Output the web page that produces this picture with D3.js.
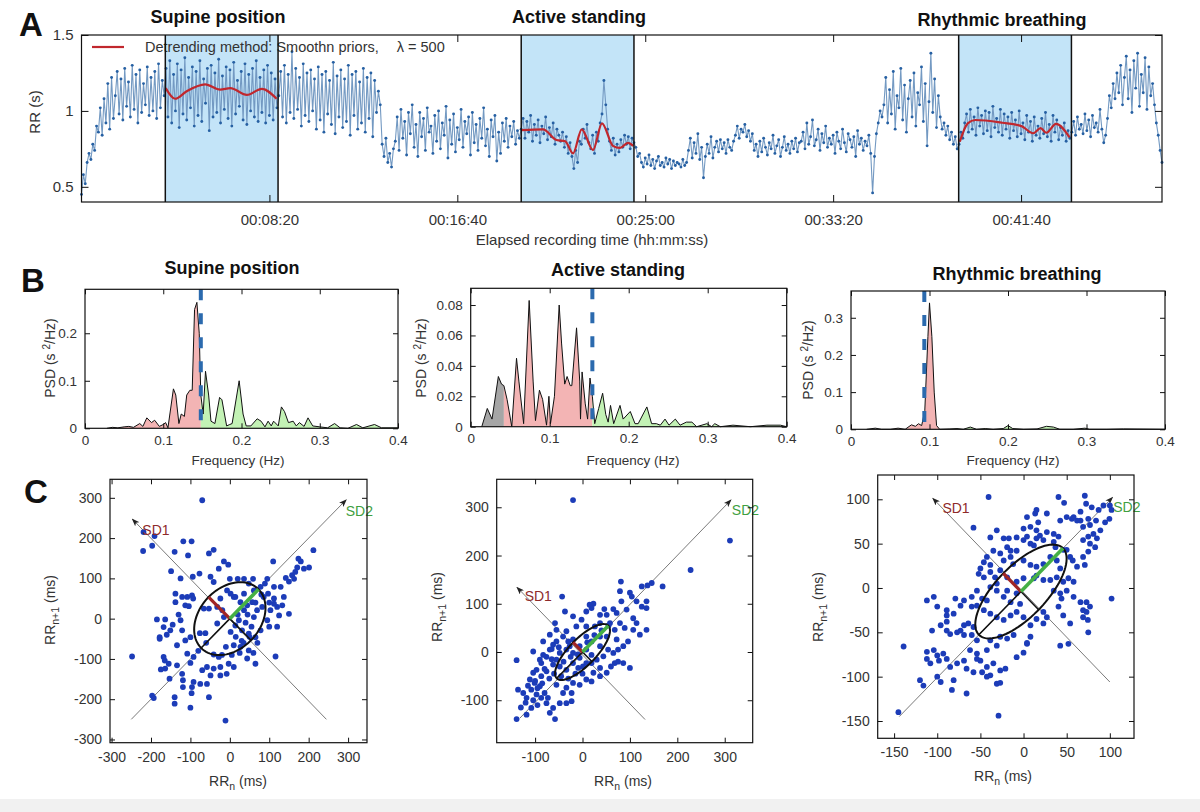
<!DOCTYPE html>
<html lang="en">
<head>
<meta charset="UTF-8">
<title>HRV analysis: RR series, PSD and Poincare plots</title>
<script src="https://cdn.jsdelivr.net/npm/d3@7"></script>
<style>
  body { margin: 0; background: #fff; }
  svg { font-family: "Liberation Sans", Arial, Helvetica, sans-serif; }
  .tick text { fill: #333; }
  .tick line { stroke: #111; }
  .ptitle { font-size: 18px; font-weight: bold; text-anchor: middle; fill: #111; }
  .letter { font-size: 33px; font-weight: bold; fill: #111; }
  .lab { font-size: 14px; fill: #333; text-anchor: middle; }
</style>
</head>
<body>
<svg id="fig" width="1200" height="812"></svg>
<script>
// ---------- panel A: RR series (values in 1/100 s, one every rrStep seconds) ----------
var rrStep = 5;
var rrValues = [
  45,58,52,66,72,68,78,74,90,86,102,84,108,92,118,88,122,95,110,126,98,121,94,128,103,119,96,130,101,124,92,127,99,118,104,129,97,122,100,126,95,131,102,120,110,
  128,96,133,92,124,100,131,89,127,98,135,94,122,102,129,90,126,97,133,93,
  121,105,128,87,130,96,125,99,134,92,123,101,129,95,127,90,132,98,120,103,
  126,94,131,91,124,100,128,96,133,93,122,99,127,92,130,97,125,94,121,102,
  110,126,96,130,92,124,99,139,95,128,101,122,90,131,97,125,93,127,100,121,
  88,129,94,124,86,126,98,120,91,132,85,123,96,127,89,121,93,130,84,124,
  97,126,88,119,92,128,86,122,95,125,83,120,99,113,104,
  78,70,82,66,72,63,75,
  80,96,74,101,82,93,71,99,85,104,76,91,70,99,83,95,74,102,86,90,
  72,97,80,100,75,92,84,103,69,94,78,98,73,89,81,101,76,93,85,96,
  71,99,79,91,74,95,82,102,77,88,70,94,83,97,67,86,72,92,80,95,
  76,90,83,93,78,87,82,
  88,95,82,93,86,97,80,91,84,94,79,90,85,96,81,89,83,92,78,88,84,
  80,86,76,83,72,79,70,62,74,66,80,78,88,82,91,79,75,84,72,86,80,92,
  98,120,104,88,80,74,82,71,78,73,81,76,84,78,83,75,82,79,
  76,70,72,66,63,69,65,71,64,68,62,67,70,64,66,63,69,65,68,62,67,64,66,
  65,63,68,64,66,74,82,69,79,72,85,68,76,56,70,78,72,83,69,76,80,73,81,
  75,79,72,81,76,74,80,84,90,82,88,86,91,83,87,80,85,
  74,78,70,80,73,82,76,71,79,75,84,72,77,81,70,76,83,74,78,72,80,75,82,73,79,
  80,86,75,92,78,83,94,77,81,88,74,85,79,90,76,82,
  78,84,72,86,80,75,88,79,73,85,81,76,83,70,87,78,82,74,80,77,84,72,
  46,70,85,92,100,96,
  104,122,92,114,98,126,88,110,102,128,94,117,86,108,120,96,125,90,112,104,
  129,93,118,77,106,138,99,121,89,110,96,88,92,84,90,81,86,78,83,75,
  78,86,82,92,
  98,86,101,88,96,84,102,90,97,85,100,87,99,83,103,89,95,86,101,84,
  98,88,96,82,99,87,94,83,100,85,92,81,97,86,93,80,96,84,90,82,
  95,85,99,83,91,80,97,86,94,81,89,84,92,80,87,82,
  86,93,84,96,88,91,85,98,87,94,83,97,89,92,86,101,88,79,84,
  95,110,102,118,108,125,
  112,130,104,122,136,108,127,99,133,115,138,103,124,112,135,101,129,110,118,
  104,92,84,74,66
];
var windows = [[223, 523], [1170, 1470], [2334, 2634]];
var windowNames = ["Supine position", "Active standing", "Rhythmic breathing"];
// smoothness-priors trend, [time s, RR s]
var trendSupine = [[224,1.15],[249,1.08],[280,1.13],[329,1.175],[369,1.14],[396,1.15],[440,1.105],[480,1.145],[519,1.08]];
var trendStanding = [[1171,0.874],[1228,0.879],[1264,0.808],[1287,0.80],[1308,0.72],[1331,0.879],[1361,0.742],[1385,0.918],[1414,0.77],[1433,0.756],[1454,0.79],[1468,0.77]];
var trendBreathing = [[2337,0.797],[2358,0.918],[2378,0.94],[2450,0.922],[2501,0.9],[2532,0.853],[2552,0.886],[2567,0.856],[2593,0.914],[2629,0.826]];
var timeTicks = [500, 1000, 1500, 2000, 2500];
var timeTickLabels = ["00:08:20", "00:16:40", "00:25:00", "00:33:20", "00:41:40"];
var rrTicks = [0.5, 1, 1.5];

// ---------- panel B: PSD, [frequency Hz, PSD s^2/Hz] ----------
var psdSupine = [[0.028,0],[0.035,0.002],[0.042,0.001],[0.05,0.003],[0.056,0.004],[0.062,0.002],[0.07,0.01],[0.074,0.004],[0.079,0.022],[0.085,0.012],[0.089,0.017],[0.095,0.004],[0.1,0.008],[0.103,0.012],[0.106,0.001],[0.113,0.083],[0.116,0.07],[0.12,0.01],[0.123,0.03],[0.127,0.025],[0.13,0.07],[0.134,0.08],[0.137,0.08],[0.14,0.25],[0.143,0.265],[0.146,0.2],[0.148,0.07],[0.151,0.03],[0.154,0.12],[0.158,0.07],[0.161,0.015],[0.166,0.01],[0.172,0.065],[0.175,0.06],[0.181,0.005],[0.185,0.008],[0.188,0.01],[0.197,0.1],[0.202,0.03],[0.206,0.005],[0.212,0.005],[0.22,0.02],[0.225,0.015],[0.23,0.003],[0.234,0.015],[0.238,0.005],[0.241,0.015],[0.247,0.005],[0.251,0.045],[0.255,0.035],[0.26,0.012],[0.266,0.015],[0.27,0.005],[0.274,0.012],[0.28,0.004],[0.285,0.022],[0.291,0.005],[0.3,0.003],[0.31,0.001],[0.319,0.01],[0.326,0.001],[0.336,0],[0.347,0.008],[0.355,0.001],[0.37,0.008],[0.379,0.001],[0.4,0.001]];
var psdStanding = [[0.014,0],[0.021,0.012],[0.027,0.005],[0.035,0.033],[0.039,0.028],[0.042,0.027],[0.046,0.018],[0.052,0],[0.058,0.045],[0.061,0.03],[0.067,0.002],[0.074,0.083],[0.079,0.03],[0.082,0.004],[0.087,0.024],[0.091,0.018],[0.096,0.001],[0.099,0.02],[0.101,0.002],[0.106,0.02],[0.112,0.08],[0.115,0.055],[0.119,0.028],[0.122,0.033],[0.126,0.027],[0.128,0.027],[0.134,0.065],[0.138,0.03],[0.139,0.005],[0.141,0.036],[0.145,0.015],[0.148,0.005],[0.151,0.032],[0.154,0.02],[0.157,0.002],[0.162,0.012],[0.167,0.022],[0.171,0.008],[0.174,0.003],[0.177,0.014],[0.181,0.002],[0.189,0.014],[0.193,0.005],[0.202,0.01],[0.208,0.002],[0.212,0.002],[0.223,0.013],[0.229,0.002],[0.235,0.002],[0.24,0.001],[0.246,0.005],[0.251,0.001],[0.259,0.005],[0.265,0.001],[0.273,0.003],[0.28,0.003],[0.286,0],[0.299,0.002],[0.305,0],[0.309,0.002],[0.316,0],[0.332,0.001],[0.354,0],[0.375,0.001],[0.392,0.001],[0.4,0]];
var psdBreathing = [[0.02,0],[0.031,0.003],[0.039,0],[0.05,0],[0.06,0.003],[0.069,0],[0.077,0.012],[0.082,0.008],[0.086,0.015],[0.09,0.01],[0.094,0.05],[0.098,0.25],[0.1,0.34],[0.103,0.25],[0.106,0.1],[0.109,0.01],[0.113,0],[0.126,0.001],[0.135,0.002],[0.143,0],[0.152,0.006],[0.16,0],[0.171,0.002],[0.181,0],[0.194,0.002],[0.2,0.01],[0.206,0.002],[0.22,0],[0.237,0.001],[0.249,0.008],[0.258,0.006],[0.266,0],[0.283,0],[0.298,0.003],[0.304,0],[0.326,0],[0.347,0.001],[0.4,0]];
var bandLimits = [[0.04, 0.148], [0.042, 0.154], [0.04, 0.115]];
var respFreq = [0.148, 0.154, 0.0934];
var freqTicks = [0, 0.1, 0.2, 0.3, 0.4];
var psdTicks = [[0, 0.1, 0.2], [0, 0.02, 0.04, 0.06, 0.08], [0, 0.1, 0.2, 0.3]];

// ---------- panel C: Poincare plots, [RRn ms, RRn+1 ms] ----------
var poincareSupine = [[-70,294],[-219,215],[-191,205],[-220,168],[-197,181],[-118,192],[-97,192],[-106,157],[-140,166],[-41,171],[-53,162],[-149,118],[-125,100],[-94,104],[-77,112],[-49,104],[-41,91],[-15,142],[-4,134],[-28,124],[0,99],[20,99],[36,99],[59,99],[95,99],[89,87],[110,142],[174,149],[171,127],[158,108],[163,99],[188,124],[201,127],[212,170],[142,101],[129,79],[112,50],[137,54],[120,29],[133,33],[150,12],[112,79],[97,62],[86,54],
  [-138,62],[-138,41],[-121,54],[-108,54],[-96,58],[-93,50],[-113,33],[-104,31],[-185,-2],[-164,-2],[-168,-21],[-151,-29],[-125,-4],[-121,-29],[-178,-46],[-178,-50],[-134,-66],[-113,-54],[-100,-46],[-76,-36],[-62,-36],[-108,-87],[-92,-95],[-248,-94],[-168,-95],[-165,-104],[-164,-124],[-134,-116],[-153,-149],[-121,-137],[-119,-153],[-119,-170],[-92,-157],[-96,-170],[-75,-162],[-58,-162],[-49,-141],[-24,-141],[-8,-137],[-70,-128],[-58,-120],[-41,-124],[-24,-120],[-3,-112],[10,-120],[-97,-185],[-53,-195],[-140,-195],[-140,-211],[-197,-191],[-193,-197],[-100,-221],[-11,-253],
  [-41,-89],[-28,-95],[10,-66],[27,-70],[48,-79],[65,-112],[44,-99],[116,-94],[2,-33],[14,-17],[23,-4],[36,21],[44,33],[57,41],[69,21],[82,29],[61,4],[27,41],[10,54],[2,62],[-7,70],[-24,50],[-32,29],[-66,25],[-53,25],[-19,21],[-15,4],[-32,-12],[31,-29],[48,-37],[65,-46],[78,-29],[95,-4],[103,21],[112,37],[125,8],[78,79],[61,70],[48,87],[14,54],[36,62],
  [20,10],[40,-10],[55,-20],[30,-55],[15,-45],[5,-90],[35,-60],[70,-60],[50,-45],[25,-85],[60,-85],[-10,-70],[-20,-90],[45,10],[65,40],[80,60],[100,40],[100,-20],[120,-20],[150,92],[166,116],[180,142],[-130,10],[-145,-15],[-160,-40],[-60,-60],[-80,-80],[-100,-110],[-155,-112],[-175,-126]];
var poincareStanding = [[-20,315],[311,231],[228,170],[169,136],[146,143],[137,138],[125,136],[81,146],[79,126],[100,123],[104,115],[82,105],[114,105],[125,94],[135,105],[135,91],[121,36],[135,46],[100,-33],[86,-23],[68,-23],[72,26],[51,32],[37,12],[37,60],[51,77],[72,81],[93,88],[107,70],[65,89],[46,89],[23,100],[15,98],[-43,115],[-37,84],[-20,74],[-2,67],[-13,53],[8,53],[26,53],[-34,43],[-41,32],[-55,22],[-83,22],[-62,15],[-104,1],[-139,-17],[-76,-10],[-87,-23],[-65,6],[-55,-16],[-97,-37],[-104,-43],[-87,-50],[-76,-40],[-111,-57],[-101,-64],[-90,-71],[-108,-78],[-80,-85],[-73,-95],[-87,-95],[-97,-88],[-118,-95],[-104,-100],[-76,-106],[-139,-139],[-118,-130],[-58,-139],[-125,-85],[-136,-78],[-108,-116],[-62,-116],[-69,-126],[-48,-106],[-34,-106],[-23,-102],[-55,-68],[-34,-74],[-20,-64],[-6,-68],[-41,-85],[-23,-85],[8,-57],[19,-61],[23,-43],[37,-50],[-62,-26],[-48,-30],[-34,-37],[-20,-23],[-9,-33],[1,-30],[-48,-2],[-34,5],[-20,-2],[-6,12],[8,5],[19,-6],[30,-16],[44,-9],[54,5],[65,-2],[75,5],[86,12],[96,22],[89,50],[107,46],[114,60],[8,32],[19,22],[37,32],[-55,46],[-69,36],[-58,60],[-30,22],[-20,26],[-27,12],[-69,5],[-83,-6],[-90,-16],[8,84],[19,91],[37,77],[58,60],[68,46],[79,60],[19,-23],[37,-33],[51,-43],[-6,-12],[8,-23],
  [-100,-60],[-115,-70],[-95,-75],[-85,-65],[-70,-55],[-60,-45],[-45,-50],[-30,-55],[-15,-45],[0,-45],[-40,-20],[-25,-10],[-10,-5],[10,20],[25,35],[40,45],[55,55],[-50,10],[-65,-15],[-80,-35],[-120,-105],[-95,-110],[-130,-115],[60,-30],[75,-20]];
var poincareBreathing = [[-40.5,102.6],[40.5,102.6],[47,96],[71,104],[72.5,95],[79,91],[84,76],[94.5,74],[99.5,78],[102,88],[100,93],[15,88],[13.5,84],[27,84],[42.5,76],[50,80],[56,78],[62,76],[66,76],[75,78],[77,71],[69,69],[89,65],[85,56],[81,61],[75,58],[69,54],[77,50],[83,46],[75,41],[69,35],[71,26],[62,24],[54,35],[50,43],[57,31],[4,80],[8,69],[0,67],[15,65],[17,74],[-58,68],[-38.5,57],[-23,56],[-17,56],[-8,57],[8,50],[15,56],[23,54],[35,52],[37,46],[-46,29],[-38.5,26],[-23,31],[-15,35],[-12,27],[-50,22],[-52,16],[-46,12],[-38.5,18],[-33,12],[-31,5],[0,31],[8,26],[15,24],[23,27],[31,35],[38.5,31],[42.5,22],[15,14],[23,9],[31,9],[38.5,12],[46,7],[52,11],[58,7],[35,-3],[42.5,-6],[50,-3],[44,-12],[58,-10],[66,-16],[69,-25],[77,-21],[73,-16],[73,-27],[74.5,-36],[69,-33],[40.5,-21],[46,-31],[54,-40],[23,-27],[27,-33],[15,-35],[8,-42],[23,-40],[4,-63],[8,-55],[-11.5,-53],[-19,-57],[-27,-55],[42.5,-65],[52,-63],[102,-12],[75,-50],
  [-38.5,-59],[-31,-65],[-42.5,-70],[-54,-59],[-60,-53],[-58,-44],[-64,-40],[-69,-42],[-73,-48],[-77,-50],[-69,-53],[-89,-38],[-96,-42],[-89,-48],[-85,-52],[-112,-14],[-104,-10],[-100,-21],[-89,-25],[-81,-29],[-89,-31],[-79,-12],[-69,-14],[-60,-10],[-73,-20],[-54,-3],[-48,-12],[-42.5,-14],[-54,-20],[-60,-21],[-38.5,1],[-31,-3],[-23,-10],[-19,-3],[-15,-16],[-8,-6],[-4,-18],[-46,-25],[-38.5,-29],[-31,-33],[-23,-36],[-15,-31],[-8,-27],[0,-33],[-139,-66],[-106,-48],[-112,-72],[-104,-70],[-100,-76],[-93,-74],[-89,-80],[-98,-82],[-112,-80],[-108,-85],[-120,-104],[-116,-110],[-100,-100],[-96,-106],[-81,-104],[-85,-89],[-77,-85],[-69,-82],[-66,-91],[-83,-115],[-66,-119],[-58,-95],[-50,-82],[-42.5,-89],[-35,-85],[-27,-93],[-21,-91],[-48,-95],[-38.5,-98.5],[-31,-108],[-27,-107],[-42.5,-100],[-62,-70],[-54,-74],[-54,-80],[-29,-144],[-145,-140],[-8,-78],[0,-73],[4,-62],
  [46,43],[40.5,58],[35,61],[27,63],[19,59],[-19,46],[-27,39],[-35,42],[-42.5,35],[0,54],[-8,42],[-15,42],[-31,65],[4,58],[12,48],[12,11],[0,11],[-8,7],[-19,12],[-27,20],[92.6,93],[87,88],[66,86],[58,80]];
var sd1Values = [76, 28, 29];
var sd2Values = [103, 77, 69];
var ellipseCenters = [[0, 0], [0, 0], [-3, -4]];
var sd2Axes = [[[-250,-250],[295,295]], [[-132,-137],[313,315]], [[-144,-145],[103,102]]];
var sd1Axes = [[[245,-250],[-247,247]], [[132,-140],[-138,134]], [[100,-106],[-105,101]]];
var sd1LabelAt = [[-222, 207], [-122, 105], [-94, 84]];
var sd2LabelAt = [[294, 255], [315, 284], [104, 86]];
var rrnTicks = [[-300,-200,-100,0,100,200,300], [-100,0,100,200,300], [-150,-100,-50,0,50,100]];

var svg = d3.select("#fig");
var defs = svg.append("defs");
defs.append("marker").attr("id", "arrow")
    .attr("viewBox", "0 0 8 6").attr("refX", 7).attr("refY", 3)
    .attr("markerWidth", 8).attr("markerHeight", 6).attr("markerUnits", "userSpaceOnUse")
    .attr("orient", "auto")
    .append("path").attr("d", "M0,0L8,3L0,6L2,3z").attr("fill", "#222");

// matlab style box with inward ticks on all four sides
function boxAxes(g, x, y, xt, yt, xfmt, yfmt, tl, fs, pad) {
    var xr = x.range(), yr = y.range();
    var bx = g.append("g").attr("transform", "translate(0," + yr[0] + ")")
        .call(d3.axisBottom(x).tickValues(xt).tickFormat(xfmt).tickSizeInner(-tl).tickSizeOuter(0).tickPadding(pad));
    var tx = g.append("g").attr("transform", "translate(0," + yr[1] + ")")
        .call(d3.axisTop(x).tickValues(xt).tickFormat("").tickSizeInner(-tl).tickSizeOuter(0));
    var ly = g.append("g").attr("transform", "translate(" + xr[0] + ",0)")
        .call(d3.axisLeft(y).tickValues(yt).tickFormat(yfmt).tickSizeInner(-tl).tickSizeOuter(0).tickPadding(8));
    var ry = g.append("g").attr("transform", "translate(" + xr[1] + ",0)")
        .call(d3.axisRight(y).tickValues(yt).tickFormat("").tickSizeInner(-tl).tickSizeOuter(0));
    [bx, tx, ly, ry].forEach(function (a) {
        a.select(".domain").remove();
        a.selectAll("text").style("font-size", fs + "px");
        a.attr("font-family", null);
    });
    g.append("rect").attr("x", xr[0]).attr("y", yr[1])
        .attr("width", xr[1] - xr[0]).attr("height", yr[0] - yr[1])
        .attr("fill", "none").attr("stroke", "#111").attr("stroke-width", 1.2);
}

// ================= A =================
var xA = d3.scaleLinear().domain([0, 2875]).range([81.5, 1162]);
var yA = d3.scaleLinear().domain([0.4, 1.5]).range([202, 35]);
var gA = svg.append("g");
var rr = rrValues.map(function (v, i) { return {t: i * rrStep, v: v / 100}; });

gA.selectAll(".win").data(windows).enter().append("rect")
    .attr("x", function (d) { return xA(d[0]); })
    .attr("width", function (d) { return xA(d[1]) - xA(d[0]); })
    .attr("y", yA.range()[1]).attr("height", yA.range()[0] - yA.range()[1])
    .attr("fill", "#c3e4f8");

gA.append("path").datum(rr)
    .attr("fill", "none").attr("stroke", "#7399c2").attr("stroke-width", 1.1)
    .attr("d", d3.line().x(function (d) { return xA(d.t); }).y(function (d) { return yA(d.v); }));
gA.selectAll(".rr").data(rr).enter().append("circle")
    .attr("cx", function (d) { return xA(d.t); })
    .attr("cy", function (d) { return yA(d.v); })
    .attr("r", 1.45).attr("fill", "#2660a3");

var trendLine = d3.line().curve(d3.curveMonotoneX)
    .x(function (d) { return xA(d[0]); }).y(function (d) { return yA(d[1]); });
[trendSupine, trendStanding, trendBreathing].forEach(function (tr) {
    gA.append("path").datum(tr).attr("fill", "none")
        .attr("stroke", "#c1272d").attr("stroke-width", 2.2).attr("d", trendLine);
});

// legend (drawn before window borders, which cross it)
gA.append("line").attr("x1", 92).attr("x2", 124).attr("y1", 47).attr("y2", 47)
    .attr("stroke", "#c1272d").attr("stroke-width", 2.2);
var leg = gA.append("text").attr("x", 145).attr("y", 52).style("font-size", "14.5px").attr("fill", "#333");
leg.append("tspan").text("Detrending method: Smoothn priors,");
leg.append("tspan").attr("dx", 18).text("λ = 500");

windows.forEach(function (w) {
    w.forEach(function (t) {
        gA.append("line").attr("x1", xA(t)).attr("x2", xA(t))
            .attr("y1", yA.range()[1]).attr("y2", yA.range()[0])
            .attr("stroke", "#111").attr("stroke-width", 1.5);
    });
});

boxAxes(gA, xA, yA, timeTicks, rrTicks,
    function (d, i) { return timeTickLabels[i]; }, function (d) { return String(d); }, 7, 15, 12);

var aTitleX = [218, 579, 1002], aTitleY = [23, 23, 26];
windowNames.forEach(function (n, i) {
    svg.append("text").attr("class", "ptitle").attr("x", aTitleX[i]).attr("y", aTitleY[i]).text(n);
});
svg.append("text").attr("class", "letter").attr("x", 19).attr("y", 36).text("A");
svg.append("text").attr("transform", "translate(40,112) rotate(-90)")
    .attr("text-anchor", "middle").style("font-size", "15px").attr("fill", "#333").text("RR (s)");
svg.append("text").attr("x", 592).attr("y", 245).attr("text-anchor", "middle")
    .style("font-size", "15px").attr("fill", "#333").text("Elapsed recording time (hh:mm:ss)");

// ================= B =================
var bBoxes = [
    {x0: 85, x1: 398, y0: 428.3, y1: 289.3, ymax: 0.2925, tx: 232, ty: 274, lx: 55, ly: 358, fx: 238},
    {x0: 470.7, x1: 786.7, y0: 426.7, y1: 288.3, ymax: 0.091, tx: 618, ty: 276, lx: 426, ly: 358, fx: 633},
    {x0: 851, x1: 1165, y0: 429.3, y1: 291, ymax: 0.372, tx: 1017, ty: 280, lx: 813, ly: 360, fx: 1013}
];
var psdData = [psdSupine, psdStanding, psdBreathing];

bBoxes.forEach(function (b, i) {
    var g = svg.append("g");
    var x = d3.scaleLinear().domain([0, 0.4]).range([b.x0, b.x1]);
    var y = d3.scaleLinear().domain([0, b.ymax]).range([b.y0, b.y1]);
    var area = d3.area().x(function (d) { return x(d[0]); }).y0(y(0)).y1(function (d) { return y(d[1]); });
    var lim = bandLimits[i];
    var bands = [[0, lim[0], "#a6a6a6"], [lim[0], lim[1], "#f3b4b4"], [lim[1], 0.4, "#c3f2b5"]];
    bands.forEach(function (bd, k) {
        var id = "clipB" + i + "_" + k;
        defs.append("clipPath").attr("id", id).append("rect")
            .attr("x", x(bd[0])).attr("width", x(bd[1]) - x(bd[0]))
            .attr("y", b.y1).attr("height", b.y0 - b.y1);
        g.append("path").datum(psdData[i]).attr("clip-path", "url(#" + id + ")")
            .attr("fill", bd[2]).attr("d", area);
    });
    g.append("path").datum(psdData[i]).attr("fill", "none").attr("stroke", "#111").attr("stroke-width", 1)
        .attr("d", d3.line().x(function (d) { return x(d[0]); }).y(function (d) { return y(d[1]); }));
    g.append("line").attr("x1", x(respFreq[i])).attr("x2", x(respFreq[i]))
        .attr("y1", b.y1).attr("y2", b.y0)
        .attr("stroke", "#2b6aae").attr("stroke-width", 4).attr("stroke-dasharray", "11,13");
    boxAxes(g, x, y, freqTicks, psdTicks[i], function (d) { return String(d); }, function (d) { return String(d); }, 5, 13.5, 7);
    svg.append("text").attr("class", "ptitle").attr("x", b.tx).attr("y", b.ty).text(windowNames[i]);
    var yl = svg.append("text").attr("transform", "translate(" + b.lx + "," + b.ly + ") rotate(-90)")
        .attr("text-anchor", "middle").style("font-size", "14px").attr("fill", "#333");
    yl.append("tspan").text("PSD (s ");
    yl.append("tspan").attr("dy", -5).style("font-size", "10px").text("2");
    yl.append("tspan").attr("dy", 5).text("/Hz)");
    svg.append("text").attr("class", "lab").attr("x", b.fx).attr("y", 465).style("font-size", "13.5px").text("Frequency (Hz)");
});
svg.append("text").attr("class", "letter").attr("x", 21).attr("y", 292).text("B");

// ================= C =================
var cBoxes = [
    {x0: 110, x1: 367, y0: 742.7, y1: 479.3, xd: [-304, 348], yd: [-308, 346], lx: 55, ly: 610, fx: 238, fy: 786},
    {x0: 496.7, x1: 752.7, y0: 742.7, y1: 479.3, xd: [-181, 359], yd: [-188, 358], lx: 442, ly: 607, fx: 623, fy: 786},
    {x0: 877.7, x1: 1134, y0: 738.3, y1: 475, xd: [-169, 128], yd: [-169.5, 127.4], lx: 823, ly: 607, fx: 1003, fy: 781}
];
var poincareData = [poincareSupine, poincareStanding, poincareBreathing];

cBoxes.forEach(function (c, i) {
    var g = svg.append("g");
    var x = d3.scaleLinear().domain(c.xd).range([c.x0, c.x1]);
    var y = d3.scaleLinear().domain(c.yd).range([c.y0, c.y1]);
    [sd2Axes[i], sd1Axes[i]].forEach(function (a) {
        g.append("line").attr("x1", x(a[0][0])).attr("y1", y(a[0][1]))
            .attr("x2", x(a[1][0])).attr("y2", y(a[1][1]))
            .attr("stroke", "#7a7a7a").attr("stroke-width", 1).attr("marker-end", "url(#arrow)");
    });
    g.selectAll(".pt").data(poincareData[i]).enter().append("circle")
        .attr("cx", function (d) { return x(d[0]); })
        .attr("cy", function (d) { return y(d[1]); })
        .attr("r", 2.9).attr("fill", "#1c3cb8");

    var ctr = ellipseCenters[i], s1 = sd1Values[i], s2 = sd2Values[i], k = Math.SQRT1_2;
    var ell = d3.range(0, 361, 4).map(function (a) {
        var r = a * Math.PI / 180, u = s2 * Math.cos(r), v = s1 * Math.sin(r);
        return [ctr[0] + (u - v) * k, ctr[1] + (u + v) * k];
    });
    g.append("path").datum(ell).attr("fill", "none").attr("stroke", "#111").attr("stroke-width", 2)
        .attr("d", d3.line().x(function (d) { return x(d[0]); }).y(function (d) { return y(d[1]); }));
    function seg(dx, dy, col, w) {
        g.append("line").attr("x1", x(ctr[0])).attr("y1", y(ctr[1]))
            .attr("x2", x(ctr[0] + dx)).attr("y2", y(ctr[1] + dy))
            .attr("stroke", col).attr("stroke-width", w);
    }
    seg(s1 * k, -s1 * k, "#111", 1.6);
    seg(-s2 * k, -s2 * k, "#111", 1.6);
    seg(-s1 * k, s1 * k, "#a02525", 3.2);
    seg(s2 * k, s2 * k, "#45b045", 3.6);
    g.append("text").attr("x", x(sd1LabelAt[i][0])).attr("y", y(sd1LabelAt[i][1]))
        .style("font-size", "14px").attr("fill", "#8e2a2a").text("SD1");
    g.append("text").attr("x", x(sd2LabelAt[i][0])).attr("y", y(sd2LabelAt[i][1]))
        .style("font-size", "14px").attr("fill", "#3f9f3f").text("SD2");

    boxAxes(g, x, y, rrnTicks[i], rrnTicks[i], function (d) { return String(d); }, function (d) { return String(d); }, 5, 14, 9);

    var yl = svg.append("text").attr("transform", "translate(" + c.lx + "," + c.ly + ") rotate(-90)")
        .attr("text-anchor", "middle").style("font-size", "14px").attr("fill", "#333");
    yl.append("tspan").text("RR");
    yl.append("tspan").attr("dy", 4).style("font-size", "10.5px").text("n+1");
    yl.append("tspan").attr("dy", -4).text(" (ms)");
    var xl = svg.append("text").attr("x", c.fx).attr("y", c.fy)
        .attr("text-anchor", "middle").style("font-size", "14px").attr("fill", "#333");
    xl.append("tspan").text("RR");
    xl.append("tspan").attr("dy", 4).style("font-size", "10.5px").text("n");
    xl.append("tspan").attr("dy", -4).text(" (ms)");
});
svg.append("text").attr("class", "letter").attr("x", 24).attr("y", 503).text("C");

// light band along the bottom edge of the figure
svg.append("rect").attr("x", 0).attr("y", 799).attr("width", 1200).attr("height", 13).attr("fill", "#f1f1f1");
</script>
</body>
</html>
